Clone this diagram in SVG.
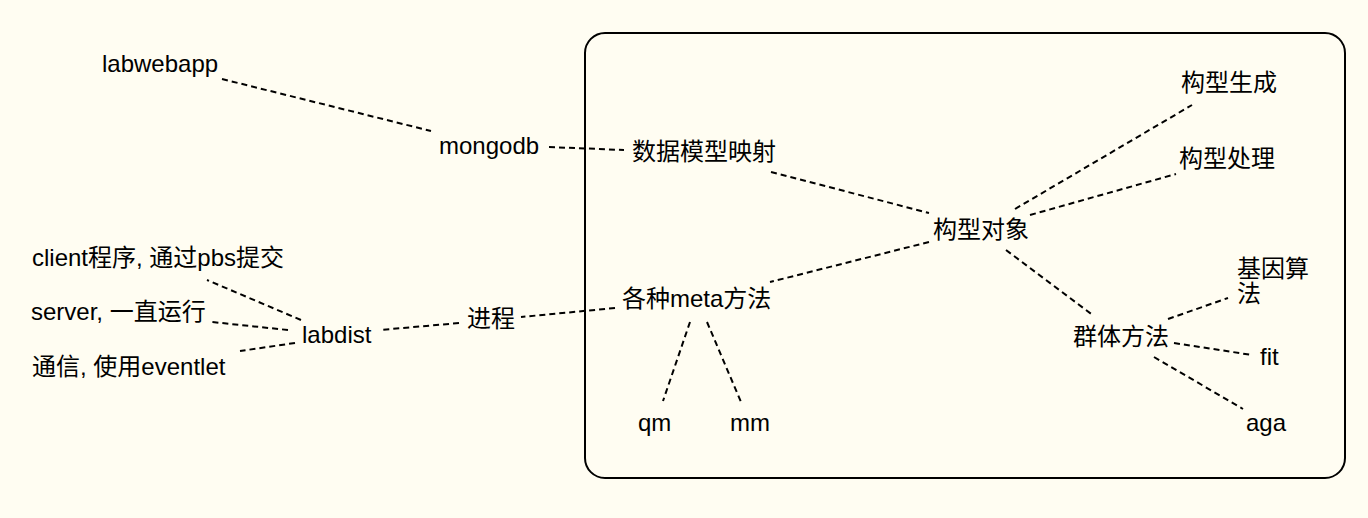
<svg xmlns="http://www.w3.org/2000/svg" width="1368" height="518" viewBox="0 0 1368 518">
<style>
text{font-family:"Liberation Sans","Noto Sans CJK SC",Arial,sans-serif;font-size:24px;fill:#000}
.c line{stroke:#000;stroke-width:2;stroke-dasharray:6,4;fill:none}
</style>
<rect width="1368" height="518" fill="#fffdf2"/>
<g id="container"><rect x="585" y="33" width="760" height="445" rx="20" ry="20" fill="none" stroke="#000" stroke-width="2"/></g>
<g class="c" id="connectors">
<line x1="222" y1="79" x2="431" y2="131"/>
<line x1="549" y1="147" x2="624" y2="150"/>
<line x1="771" y1="172" x2="929" y2="213"/>
<line x1="1015" y1="209" x2="1192" y2="105"/>
<line x1="1030" y1="215" x2="1176" y2="174"/>
<line x1="1006" y1="250" x2="1094" y2="316"/>
<line x1="929" y1="242" x2="770" y2="282"/>
<line x1="1168" y1="319" x2="1228" y2="298"/>
<line x1="1174" y1="343" x2="1252" y2="355"/>
<line x1="1154" y1="357" x2="1243" y2="409"/>
<line x1="615" y1="308" x2="521" y2="317"/>
<line x1="459" y1="323" x2="380" y2="330"/>
<line x1="301" y1="320" x2="207" y2="280"/>
<line x1="288" y1="330" x2="212" y2="322"/>
<line x1="295" y1="343" x2="240" y2="351"/>
<line x1="690" y1="322" x2="663" y2="401"/>
<line x1="707" y1="322" x2="741" y2="402"/>
</g>
<g id="labwebapp"><text x="102" y="72">labwebapp</text></g>
<g id="mongodb"><text x="439" y="154">mongodb</text></g>
<g id="shujumoxing"><text x="632" y="160">数据模型映射</text></g>
<g id="gouxingshengcheng"><text x="1181" y="91">构型生成</text></g>
<g id="gouxingchuli"><text x="1179" y="167">构型处理</text></g>
<g id="gouxingduixiang"><text x="933" y="238">构型对象</text></g>
<g id="jiyinsuanfa"><text x="1237" y="277">基因算<tspan x="1237" dy="25">法</tspan></text></g>
<g id="quntifangfa"><text x="1073" y="345">群体方法</text></g>
<g id="fit"><text x="1260" y="365">fit</text></g>
<g id="aga"><text x="1246" y="431">aga</text></g>
<g id="meta"><text x="622" y="307">各种meta方法</text></g>
<g id="qm"><text x="638" y="431">qm</text></g>
<g id="mm"><text x="730" y="431">mm</text></g>
<g id="jincheng"><text x="467" y="327">进程</text></g>
<g id="labdist"><text x="302" y="343">labdist</text></g>
<g id="client"><text x="32" y="266">client程序, 通过pbs提交</text></g>
<g id="server"><text x="31" y="320">server, 一直运行</text></g>
<g id="tongxin"><text x="32" y="375">通信, 使用eventlet</text></g>
</svg>
